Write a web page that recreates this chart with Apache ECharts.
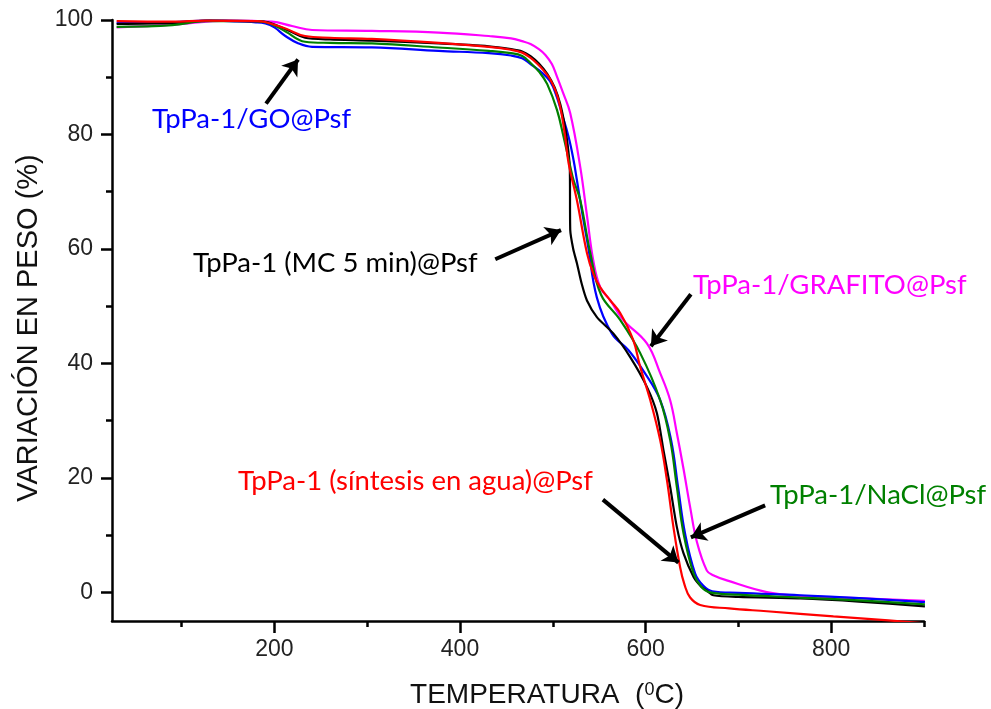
<!DOCTYPE html>
<html>
<head>
<meta charset="utf-8">
<script src="https://cdn.jsdelivr.net/npm/echarts@6/dist/echarts.min.js"></script>
<style>
  html, body { margin: 0; padding: 0; background: #fff; }
  #chart { width: 991px; height: 709px; }
</style>
</head>
<body>
<div id="chart"></div>
<script>
// curvas TGA: [temperatura (ºC), peso (%)]
var mc5min = [
  [30, 99.3], [90, 99.5], [130, 99.9], [180, 99.8], [195, 99.5], [212, 98.4], [233, 96.9], [260, 96.6],
  [305, 96.4], [377, 95.9], [431, 95.4], [455, 94.9], [467, 94.5], [476, 93.7], [485, 92.4], [494, 90.6],
  [502, 88.2], [508, 85.3], [513, 81.5], [516, 78.2], [518.3, 74.3], [518.8, 63.3], [522, 60], [526, 57.5],
  [531, 54], [536.8, 51.0], [547.5, 48.1], [565.4, 45.2], [583.4, 41.1], [601.4, 35.9], [612.2, 31.3],
  [619.3, 24.8], [626.5, 18.4], [633.7, 11.4], [640.9, 6.8], [651.7, 2.7], [660, 1.0], [666, 0.3],
  [673, -0.5], [700, -0.8], [766.5, -1.05], [830, -1.6], [901, -2.45]
];
var sintesisAgua = [
  [30, 99.8], [90, 99.7], [126, 99.9], [180, 99.8], [190, 99.65], [212, 98.5], [233, 97.2], [260, 96.9],
  [305, 96.7], [377, 96.0], [431, 95.3], [455, 94.8], [467, 94.3], [475, 93.5], [483, 92.4], [490, 91.2],
  [497, 89.7], [503, 87.6], [508, 84.8], [513, 80.0], [517, 75.0], [526, 68.5], [536.8, 59.3], [544, 55.5],
  [551.1, 53.3], [562, 51], [572.6, 48.8], [586.6, 44.1], [594.2, 39.4], [605, 33.6], [615.7, 26.6],
  [623, 19.6], [630, 11.4], [637.2, 4.4], [642, 1.3], [648, -0.9], [658.8, -2.2], [690, -2.8],
  [730.6, -3.3], [802.4, -4.2], [861.6, -4.9], [900, -5.4]
];
var goPsf = [
  [30, 99.5], [90, 99.6], [126, 99.9], [180, 99.6], [190.3, 99.4], [200, 98.7], [211.8, 97.2], [226, 95.9],
  [240.6, 95.3], [305, 95.2], [377, 94.6], [431, 94.2], [455, 93.8], [467, 93.3], [476, 92.3], [486, 91.1],
  [497, 89.3], [504, 86.7], [510, 83.5], [517, 79.6], [522.4, 75.5], [526, 72], [532, 66], [538, 60.5],
  [547.5, 51.5], [563.7, 45.2], [581.6, 42.3], [598, 38.6], [615.7, 33.6], [627.5, 26.6], [635, 18.4],
  [642.5, 10.3], [653.4, 3.3], [662, 1.2], [671.8, 0.2], [700, -0.1], [766.5, -0.5], [830, -1.0], [901, -1.7]
];
var naclPsf = [
  [30, 98.8], [90, 99.1], [126, 99.8], [180, 99.8], [195, 99.4], [212, 98.0], [233, 96.2], [260, 96.0],
  [305, 95.9], [377, 95.2], [431, 94.6], [455, 94.2], [467, 93.7], [476, 92.5], [486, 90.8], [494, 88.8],
  [504.5, 84.3], [511.6, 79.6], [518.8, 74.4], [522.4, 72], [529.6, 68.5], [540.4, 59.3], [552, 52],
  [572.6, 47.6], [594.2, 41.8], [615.7, 33.6], [626.5, 26.6], [633.7, 18.4], [640.9, 10.3], [651.7, 3.3],
  [660, 1.0], [669.6, 0.0], [700, -0.4], [766.5, -0.9], [830, -1.4], [901, -2.1]
];
var grafitoPsf = [
  [30, 98.7], [90, 99.2], [150, 99.9], [197.5, 99.7], [219, 98.95], [240.6, 98.25], [305, 98.1], [377, 97.8],
  [431, 97.2], [455, 96.8], [467, 96.3], [476, 95.8], [485, 94.9], [492, 93.9], [499, 92.3], [504.5, 90.1],
  [511, 87.3], [518.8, 83.7], [529.6, 74.3], [537, 65.6], [543.6, 58], [551.1, 53.3], [561.9, 51],
  [575.9, 47.6], [601.4, 43.5], [615.7, 38.3], [626.4, 33.6], [633.7, 27.8], [640.5, 21.9], [648, 14.9],
  [655.3, 8.8], [666, 3.8], [672.8, 3.0], [687.5, 2.1], [730.6, 0.05], [766.5, -0.6], [830, -1.0], [901, -1.5]
];

var xTicks = [200, 400, 600, 800];
var xMinorTicks = [100, 300, 500, 700, 900];
var yTicks = [0, 20, 40, 60, 80, 100];
var yMinorTicks = [10, 30, 50, 70, 90];

// flechas de las etiquetas: [inicio, punta]
var flechas = [
  [[191, 85.4], [225.5, 93.1]],
  [[438, 58.2], [508.8, 63.3]],
  [[648.8, 52.1], [605.7, 43.0]],
  [[554, 16.2], [635.4, 5.2]],
  [[728.8, 15.2], [648.8, 9.6]]
];

var myChart = echarts.init(document.getElementById('chart'));

var ejeFont = 'Liberation Sans, Arial, sans-serif';
var notaFont = 'Lato, sans-serif';

function serie(name, data, color) {
  return {
    name: name,
    type: 'line',
    data: data,
    xAxisIndex: 0,
    yAxisIndex: 0,
    showSymbol: false,
    smooth: 0.4,
    lineStyle: { color: color, width: 2.2 },
    itemStyle: { color: color }
  };
}

var series = [
  serie('TpPa-1/GRAFITO@Psf', grafitoPsf, '#ff00ff'),
  serie('TpPa-1/GO@Psf', goPsf, '#0000ff'),
  serie('TpPa-1 (MC 5 min)@Psf', mc5min, '#000000'),
  serie('TpPa-1/NaCl@Psf', naclPsf, '#008000'),
  serie('TpPa-1 (síntesis en agua)@Psf', sintesisAgua, '#ff0000')
];
series[2].smooth = 0.25;
series[4].markLine = {
  silent: true,
  symbol: ['none', 'arrow'],
  symbolSize: 15,
  label: { show: false },
  lineStyle: { color: '#000', width: 4, type: 'solid' },
  data: flechas.map(function (f) {
    return [{ coord: f[0] }, { coord: f[1] }];
  })
};

function texto(str, x, y, color) {
  return {
    type: 'text',
    x: x,
    y: y,
    style: {
      text: str,
      fill: color,
      fontSize: 27.5,
      fontFamily: notaFont,
      textAlign: 'left',
      textVerticalAlign: 'middle'
    }
  };
}

var option = {
  animation: false,
  grid: { left: 112, right: 67, top: 20, bottom: 88 },
  xAxis: [{
    type: 'value', min: 25, max: 900,
    axisLine: { onZero: false, lineStyle: { color: '#000', width: 2.5 } },
    axisTick: { length: 12, lineStyle: { color: '#000', width: 2.5 }, customValues: xTicks },
    axisLabel: { customValues: xTicks, fontSize: 23, margin: 17, color: '#222', fontFamily: ejeFont },
    splitLine: { show: false }
  }, {
    type: 'value', min: 25, max: 900, position: 'bottom',
    axisLine: { show: false, onZero: false },
    axisTick: { length: 6, lineStyle: { color: '#000', width: 2.5 }, customValues: xMinorTicks },
    axisLabel: { show: false },
    splitLine: { show: false }
  }],
  yAxis: [{
    type: 'value', min: -5, max: 100,
    axisLine: { show: true, onZero: false, lineStyle: { color: '#000', width: 2.5 } },
    axisTick: { show: true, length: 11, lineStyle: { color: '#000', width: 2.5 }, customValues: yTicks },
    axisLabel: { customValues: yTicks, fontSize: 23, margin: 19, color: '#222', fontFamily: ejeFont },
    splitLine: { show: false }
  }, {
    type: 'value', min: -5, max: 100, position: 'left',
    axisLine: { show: false, onZero: false },
    axisTick: { show: true, length: 6, lineStyle: { color: '#000', width: 2.5 }, customValues: yMinorTicks },
    axisLabel: { show: false },
    splitLine: { show: false }
  }],
  series: series,
  graphic: [
    {
      type: 'text', x: 29, y: 328, rotation: Math.PI / 2,
      style: {
        text: 'VARIACIÓN EN PESO (%)', fill: '#111', fontSize: 29, fontFamily: ejeFont,
        textAlign: 'center', textVerticalAlign: 'middle'
      }
    },
    {
      type: 'text', x: 547, y: 695,
      style: {
        text: '{a|TEMPERATURA  (}{s|0}{a|C)}',
        textAlign: 'center', textVerticalAlign: 'middle',
        rich: {
          a: { fontSize: 28, fontFamily: ejeFont, fill: '#111', color: '#111' },
          s: { fontSize: 18, fontFamily: ejeFont, fill: '#111', color: '#111', verticalAlign: 'top' }
        }
      }
    },
    texto('TpPa-1/GO@Psf', 152, 119, '#0000ff'),
    texto('TpPa-1 (MC 5 min)@Psf', 193, 263, '#000000'),
    texto('TpPa-1/GRAFITO@Psf', 693, 285, '#ff00ff'),
    texto('TpPa-1 (síntesis en agua)@Psf', 238, 481, '#ff0000'),
    texto('TpPa-1/NaCl@Psf', 770, 495, '#008000')
  ]
};

myChart.setOption(option);
</script>
</body>
</html>
